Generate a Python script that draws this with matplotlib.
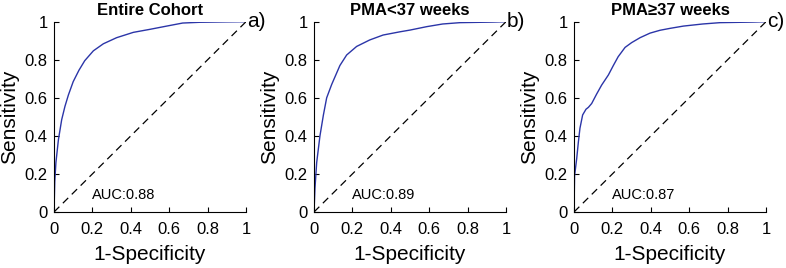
import numpy as np
import matplotlib
matplotlib.use("Agg")
import matplotlib.pyplot as plt

plt.rcParams["font.family"] = ["Liberation Sans", "DejaVu Sans"]

titles = ["Entire Cohort", "PMA<37 weeks", "PMA\u226537 weeks"]
tags = ["a)", "b)", "c)"]
aucs = ["AUC:0.88", "AUC:0.89", "AUC:0.87"]

# ROC points
fpr_all = [0, 0.004, 0.010, 0.023, 0.040, 0.057, 0.075, 0.10, 0.13, 0.16, 0.205,
           0.257, 0.326, 0.413, 0.50, 0.587, 0.67, 0.76, 0.90, 1.0]
tpr_all = [0, 0.16, 0.26, 0.38, 0.485, 0.555, 0.615, 0.685, 0.745, 0.795, 0.847,
           0.884, 0.916, 0.944, 0.96, 0.977, 0.993, 0.997, 0.999, 1.0]

fpr_pre = [0, 0.005, 0.014, 0.031, 0.049, 0.066, 0.092, 0.135, 0.17, 0.222, 0.29,
           0.36, 0.448, 0.50, 0.587, 0.67, 0.76, 0.93, 1.0]
tpr_pre = [0, 0.124, 0.26, 0.40, 0.51, 0.60, 0.67, 0.77, 0.825, 0.87, 0.904,
           0.93, 0.947, 0.956, 0.974, 0.988, 0.995, 0.998, 1.0]

fpr_term = [0, 0.003, 0.014, 0.023, 0.031, 0.045, 0.0625, 0.075, 0.092, 0.118, 0.144,
            0.179, 0.205, 0.23, 0.266, 0.30, 0.344, 0.396, 0.448, 0.50, 0.57, 0.67,
            0.76, 0.93, 1.0]
tpr_term = [0, 0.19, 0.28, 0.37, 0.44, 0.51, 0.54, 0.55, 0.57, 0.62, 0.667,
            0.72, 0.77, 0.816, 0.865, 0.89, 0.916, 0.94, 0.955, 0.965, 0.977, 0.988,
            0.995, 0.998, 1.0]

curves = [(fpr_all, tpr_all), (fpr_pre, tpr_pre), (fpr_term, tpr_term)]
ticks = [0, 0.2, 0.4, 0.6, 0.8, 1]
ticklabels = ["0", "0.2", "0.4", "0.6", "0.8", "1"]

fig = plt.figure(figsize=(7.86, 2.68), dpi=100)
lefts = [54, 314, 574]
for i, left in enumerate(lefts):
    ax = fig.add_axes([left / 786, 0.209, 192 / 786, 0.710])
    fx, ty = curves[i]
    ax.plot(fx, ty, color="#2b35a8", lw=1.0)
    ax.plot([0, 1], [0, 1], color="black", lw=0.9, ls=(0, (6, 4)))
    ax.set_xlim(0, 1)
    ax.set_ylim(0, 1)
    ax.set_xticks(ticks)
    ax.set_xticklabels(ticklabels)
    ax.set_yticks(ticks)
    ax.set_yticklabels(ticklabels)
    ax.tick_params(direction="in", length=3.5, width=0.8, labelsize=12)
    ax.tick_params(axis="x", pad=7)
    ax.tick_params(axis="y", pad=4.5)
    for s in ["top", "right"]:
        ax.spines[s].set_visible(False)
    ax.set_xlabel("1-Specificity", fontsize=15, labelpad=6)
    ax.set_ylabel("Sensitivity", fontsize=15, labelpad=4)
    ax.set_title(titles[i], fontsize=12, fontweight="bold", pad=5)
    ax.text(0.2, 0.09, aucs[i], fontsize=10.5, va="center", ha="left")
    ax.text(1.005, 1.0, tags[i], fontsize=15, va="center", ha="left",
            transform=ax.transAxes, clip_on=False)

fig.savefig("out.png", dpi=100)
